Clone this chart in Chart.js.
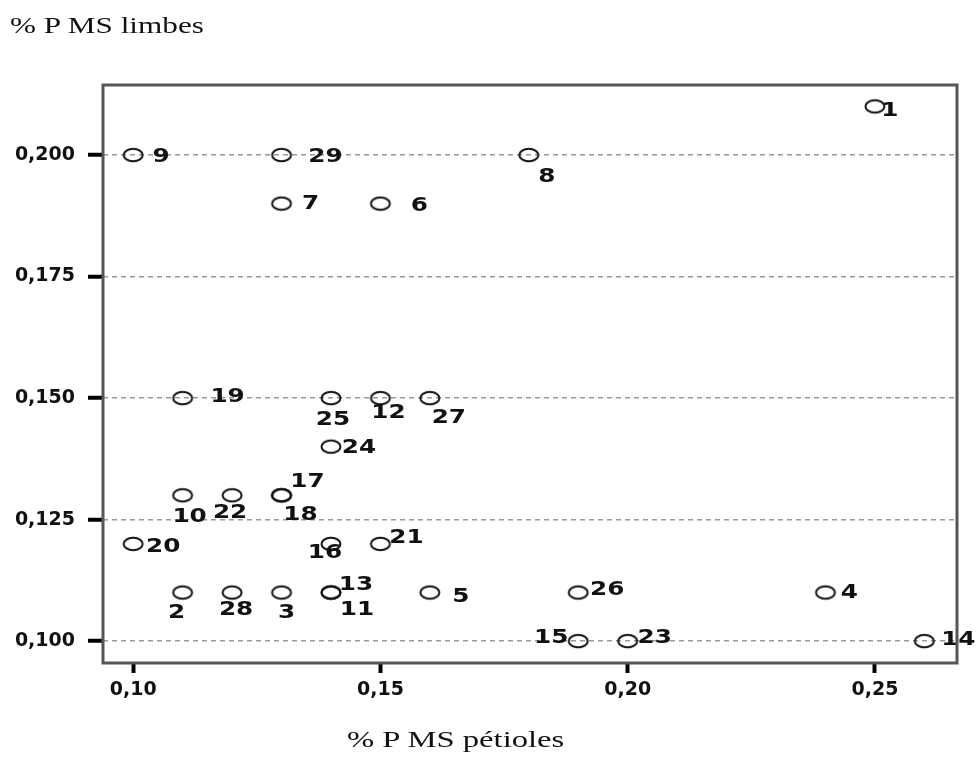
<!DOCTYPE html>
<html>
<head>
<meta charset="utf-8">
<script src="https://cdn.jsdelivr.net/npm/chart.js@4/dist/chart.umd.min.js"></script>
<style>
    body { margin: 0; background: #fff; }
    #wrap { position: relative; width: 977px; height: 760px; }
    .titre { position: absolute; font-family: "Liberation Serif", serif; font-size: 24px; color: #111; white-space: nowrap; transform-origin: left top; }
    #titreY { left: 10px; top: 12px; transform: scaleX(1.3); }
    #titreX { left: 347px; top: 726px; transform: scaleX(1.36); }
</style>
</head>
<body>
<div id="wrap">
    <canvas id="myChart" width="977" height="760"></canvas>
    <div class="titre" id="titreY">% P MS limbes</div>
    <div class="titre" id="titreX">% P MS pétioles</div>
</div>
<script>
// Données : numéro de l'individu, % P MS pétioles (x), % P MS limbes (y)
const ids      = [1, 2, 3, 4, 5, 6, 7, 8, 9, 10, 11, 12, 13, 14, 15, 16, 17, 18, 19, 20, 21, 22, 23, 24, 25, 26, 27, 28, 29];
const petioles = [0.25, 0.11, 0.13, 0.24, 0.16, 0.15, 0.13, 0.18, 0.10, 0.11, 0.14, 0.15, 0.14, 0.26, 0.19, 0.14, 0.13, 0.13, 0.11, 0.10, 0.15, 0.12, 0.20, 0.14, 0.14, 0.19, 0.16, 0.12, 0.13];
const limbes   = [0.21, 0.11, 0.11, 0.11, 0.11, 0.19, 0.19, 0.20, 0.20, 0.13, 0.11, 0.15, 0.11, 0.10, 0.10, 0.12, 0.13, 0.13, 0.15, 0.12, 0.12, 0.13, 0.10, 0.14, 0.15, 0.11, 0.15, 0.11, 0.20];
const xTicks = [0.10, 0.15, 0.20, 0.25];
const yTicks = [0.100, 0.125, 0.150, 0.175, 0.200];

// Décalage (px) des étiquettes par rapport au point
const labelOffsets = [
    [15, 5], [-6, 21], [5, 21], [24, 1], [31, 5], [39, 2], [29, 0], [18, 22], [28, 2], [7, 22],
    [26, 18], [8, 15], [25, -7], [34, -1], [-27, -3], [-6, 9], [26, -13], [19, 20], [45, -1], [30, 3],
    [26, -6], [-2, 18], [27, -3], [28, 1], [2, 22], [29, -2], [19, 20], [4, 18], [44, 2]
];

// petit cercle un peu écrasé comme sur l'original
const marker = document.createElement('canvas');
marker.width = 24; marker.height = 18;
(function () {
    let c = marker.getContext('2d');
    c.strokeStyle = '#111';
    c.lineWidth = 2;
    c.beginPath();
    c.ellipse(12, 9, 9.5, 6.2, 0, 0, Math.PI * 2);
    c.stroke();
})();

const fmt = (v, d) => v.toFixed(d).replace('.', ',');

// cadre autour de la zone du graphe
const cadre = {
    id: 'cadre',
    afterDraw(chart) {
        const a = chart.chartArea, ctx = chart.ctx;
        ctx.save();
        ctx.strokeStyle = '#555';
        ctx.lineWidth = 3;
        ctx.strokeRect(a.left, a.top, a.right - a.left, a.bottom - a.top);
        ctx.restore();
    }
};

// numéros à côté des points
const etiquettes = {
    id: 'etiquettes',
    afterDatasetsDraw(chart) {
        const ctx = chart.ctx;
        const pts = chart.getDatasetMeta(0).data;
        ctx.save();
        ctx.font = 'bold 19px "DejaVu Sans"';
        ctx.fillStyle = '#111';
        ctx.textAlign = 'center';
        ctx.textBaseline = 'middle';
        pts.forEach((p, i) => {
            ctx.save();
            ctx.translate(p.x + labelOffsets[i][0], p.y + labelOffsets[i][1]);
            ctx.scale(1.3, 1);
            ctx.fillText(String(ids[i]), 0, 0);
            ctx.restore();
        });
        ctx.restore();
    }
};

new Chart(document.getElementById('myChart'), {
    type: 'scatter',
    data: {
        datasets: [{
            data: petioles.map((x, i) => ({ x: x, y: limbes[i] })),
            pointStyle: marker,
            clip: false
        }]
    },
    options: {
        responsive: false,
        animation: false,
        layout: { padding: { top: 85, right: 20, left: 0, bottom: 0 } },
        plugins: { legend: { display: false }, tooltip: { enabled: false } },
        scales: {
            x: {
                min: 0.0939, max: 0.2666,
                afterBuildTicks: s => { s.ticks = xTicks.map(v => ({ value: v })); },
                afterFit: s => { s.height = 97; },
                grid: { drawOnChartArea: false, tickLength: 10, tickColor: '#000', tickWidth: 4 },
                border: { display: false },
                ticks: {
                    padding: 6, color: '#111',
                    font: { family: 'DejaVu Sans', size: 19, weight: 'bold' },
                    callback: v => fmt(v, 2)
                }
            },
            y: {
                min: 0.0955, max: 0.2144,
                afterBuildTicks: s => { s.ticks = yTicks.map(v => ({ value: v })); },
                afterFit: s => { s.width = 103; },
                grid: { color: '#999', lineWidth: 1.5, tickLength: 15, tickColor: '#000', tickWidth: 4 },
                border: { display: false, dash: [5, 4] },
                ticks: {
                    padding: 13, color: '#111',
                    font: { family: 'DejaVu Sans', size: 19, weight: 'bold' },
                    callback: v => fmt(v, 3)
                }
            }
        }
    },
    plugins: [cadre, etiquettes]
});
</script>
</body>
</html>
